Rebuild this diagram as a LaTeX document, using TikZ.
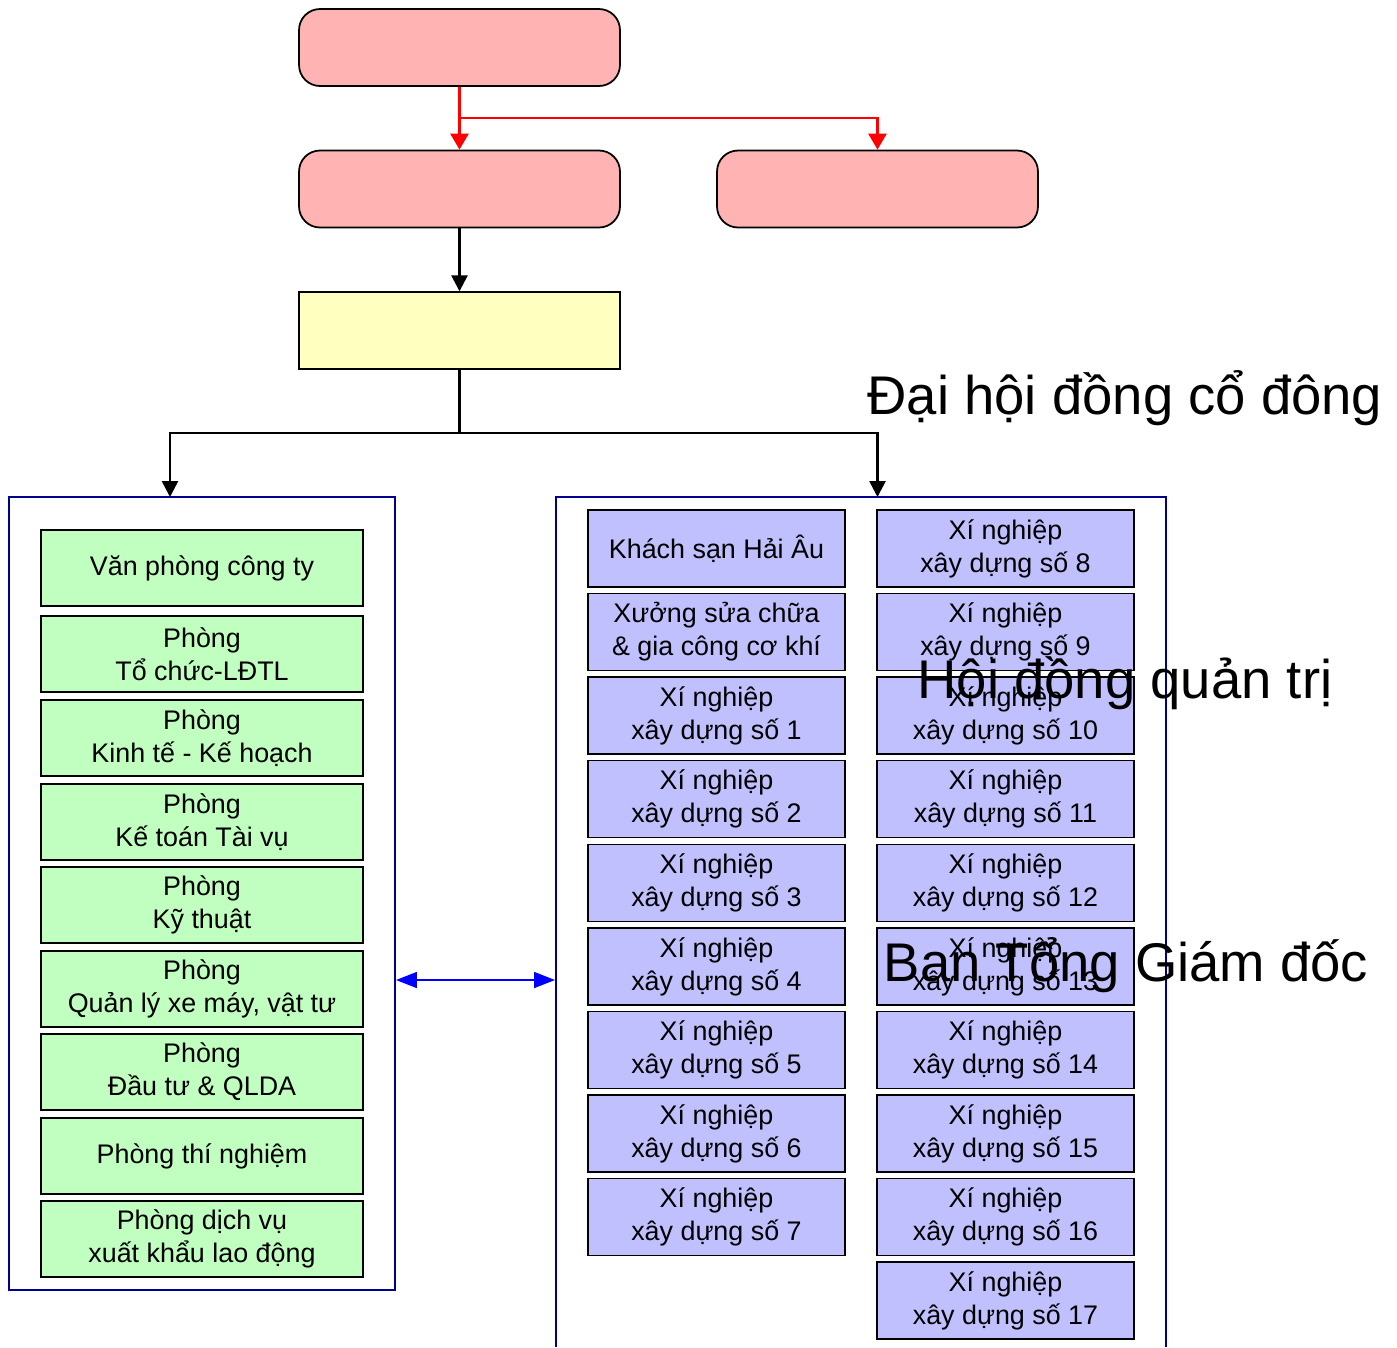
\documentclass[tikz,border=0pt]{standalone}
\usepackage{fontspec}
\setmainfont{Liberation Sans}
\usetikzlibrary{arrows.meta}
\definecolor{pinkfill}{HTML}{FFB3B3}
\definecolor{yellowfill}{HTML}{FFFFC0}
\definecolor{greenfill}{HTML}{C0FFC0}
\definecolor{bluefill}{HTML}{C0C0FF}
\definecolor{navy}{HTML}{000090}
\begin{document}
\begin{tikzpicture}[x=0.02cm,y=-0.02cm,
  topbox/.style={draw=black, line width=1pt, fill=pinkfill, rounded corners=0.42cm, minimum width=6.42cm, minimum height=1.54cm, inner sep=0pt},
  ybox/.style={draw=black, line width=0.8pt, fill=yellowfill, minimum width=6.42cm, minimum height=1.54cm, inner sep=0pt},
  gbox/.style={draw=black, line width=1pt, fill=greenfill, minimum width=6.44cm, minimum height=1.52cm, inner sep=0pt, align=center, font=\fontsize{15.3pt}{18.7pt}\selectfont},
  bbox/.style={draw=black, line width=1pt, fill=bluefill, minimum width=5.14cm, minimum height=1.54cm, inner sep=0pt, align=center, font=\fontsize{15.3pt}{18.7pt}\selectfont},
  container/.style={draw=navy, line width=1.3pt},
  redline/.style={draw=red, line width=1.5pt, -{Triangle[length=0.32cm,width=0.36cm]}},
  blackline/.style={draw=black, line width=1.5pt, -{Triangle[length=0.32cm,width=0.32cm]}},
  blueline/.style={draw=blue, line width=1pt, {Triangle[length=0.42cm,width=0.32cm]}-{Triangle[length=0.42cm,width=0.32cm]}},
  biglabel/.style={anchor=base, inner sep=0pt, font=\fontsize{31pt}{36pt}\selectfont}
]
\useasboundingbox[fill=white] (0,0) rectangle (1397,1347);

% top structure
\node[topbox] (A) at (459.5,47.5) {};
\node[topbox] (B) at (459.5,189) {};
\node[topbox] (C) at (877.5,189) {};
\node[ybox] (D) at (459.5,330.5) {};

\coordinate (rj) at (459.5,118);
\draw[redline] (A.south) -- (B.north);
\draw[redline] (rj) -| (C.north);
\draw[blackline] (B.south) -- (D.north);

% containers
\node[container, minimum width=7.72cm, minimum height=15.86cm, inner sep=0pt] (L) at (202,893.5) {};
\coordinate (Rbl) at (556,1347);
\coordinate (Rtl) at (556,497);
\coordinate (Rtr) at (1166,497);
\coordinate (Rbr) at (1166,1347);
\draw[container] (Rbl) -- (Rtl) -- (Rtr) -- (Rbr);

\coordinate (J) at (459.5,433);
\coordinate (Ltop) at (170,497);
\coordinate (Rtop) at (877.5,497);
\draw[black, line width=1.5pt] (D.south) -- (J);
\draw[blackline] (J) -| (Ltop);
\draw[blackline] (J) -| (Rtop);

\coordinate (La) at (396,980);
\coordinate (Ra) at (555,980);
\draw[blueline] (La) -- (Ra);

% left boxes
\node[gbox] (g1) at (202,568) {Văn phòng công ty};
\node[gbox] (g2) at (202,654) {Phòng\\Tổ chức-LĐTL};
\node[gbox] (g3) at (202,738) {Phòng\\Kinh tế - Kế hoạch};
\node[gbox] (g4) at (202,822) {Phòng\\Kế toán Tài vụ};
\node[gbox] (g5) at (202,905) {Phòng\\Kỹ thuật};
\node[gbox] (g6) at (202,989) {Phòng\\Quản lý xe máy, vật tư};
\node[gbox] (g7) at (202,1072) {Phòng\\Đầu tư \& QLDA};
\node[gbox] (g8) at (202,1156) {Phòng thí nghiệm};
\node[gbox] (g9) at (202,1239) {Phòng dịch vụ\\xuất khẩu lao động};

% right column 1
\node[bbox] (b1) at (716.5,548.5) {Khách sạn Hải Âu};
\node[bbox] (b2) at (716.5,632) {Xưởng sửa chữa\\\& gia công cơ khí};
\node[bbox] (b3) at (716.5,715.5) {Xí nghiệp\\xây dựng số 1};
\node[bbox] (b4) at (716.5,799) {Xí nghiệp\\xây dựng số 2};
\node[bbox] (b5) at (716.5,883) {Xí nghiệp\\xây dựng số 3};
\node[bbox] (b6) at (716.5,966.5) {Xí nghiệp\\xây dựng số 4};
\node[bbox] (b7) at (716.5,1050) {Xí nghiệp\\xây dựng số 5};
\node[bbox] (b8) at (716.5,1133.5) {Xí nghiệp\\xây dựng số 6};
\node[bbox] (b9) at (716.5,1217) {Xí nghiệp\\xây dựng số 7};

% right column 2
\node[bbox] (c8) at (1005.5,548.5) {Xí nghiệp\\xây dựng số 8};
\node[bbox] (c9) at (1005.5,632) {Xí nghiệp\\xây dựng số 9};
\node[bbox] (c10) at (1005.5,715.5) {Xí nghiệp\\xây dựng số 10};
\node[bbox] (c11) at (1005.5,799) {Xí nghiệp\\xây dựng số 11};
\node[bbox] (c12) at (1005.5,883) {Xí nghiệp\\xây dựng số 12};
\node[bbox] (c13) at (1005.5,966.5) {Xí nghiệp\\xây dựng số 13};
\node[bbox] (c14) at (1005.5,1050) {Xí nghiệp\\xây dựng số 14};
\node[bbox] (c15) at (1005.5,1133.5) {Xí nghiệp\\xây dựng số 15};
\node[bbox] (c16) at (1005.5,1217) {Xí nghiệp\\xây dựng số 16};
\node[bbox] (c17) at (1005.5,1300.5) {Xí nghiệp\\xây dựng số 17};

% stray large labels
\node[biglabel] (t1) at (1125,414) {Đại hội đồng cổ đông};
\node[biglabel] (t2) at (1125,698) {Hội đồng quản trị};
\node[biglabel] (t3) at (1126,981) {Ban Tổng Giám đốc};
\end{tikzpicture}
\end{document}
